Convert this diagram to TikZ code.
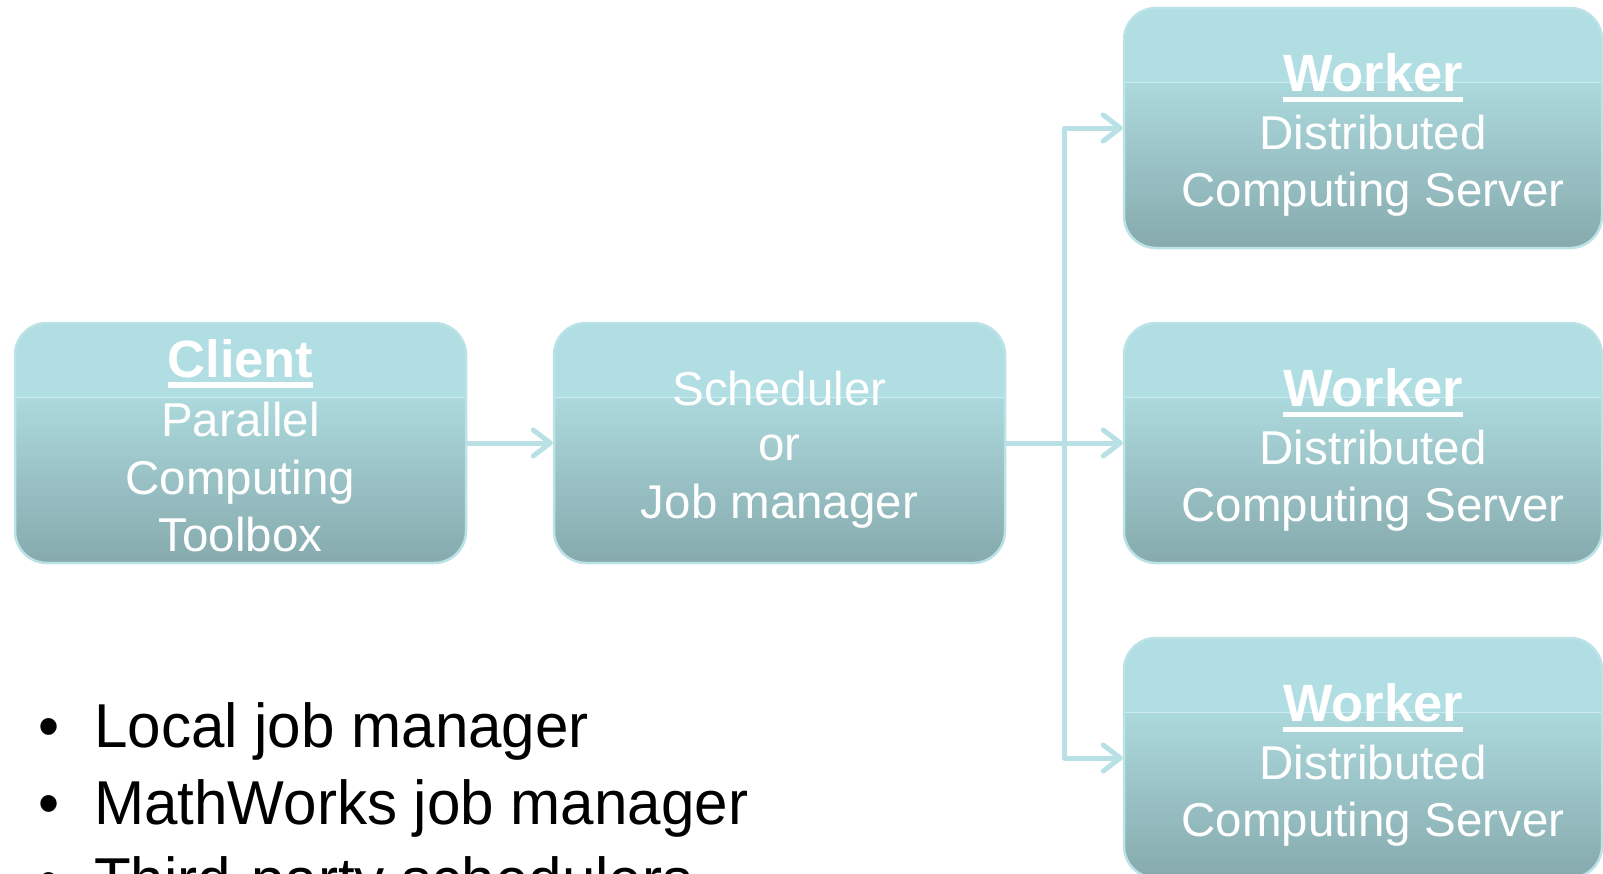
\documentclass[tikz,border=0pt]{standalone}
\usepackage{fontspec}
\setmainfont{Liberation Sans}
\newfontfamily\listfont[FakeStretch=0.97]{Liberation Sans}
\usetikzlibrary{arrows.meta}

\definecolor{cardtop}{HTML}{B0DEE2}
\definecolor{cardmid}{HTML}{ACD9DD}
\definecolor{cardbot}{HTML}{86AAAD}
\definecolor{cardedge}{HTML}{BBE2E6}
\definecolor{cardline}{HTML}{CDECEF}
\definecolor{linkc}{HTML}{B9E1E5}

% bold, underlined heading of a card
\newcommand{\cardtitle}[1]{\setbox0=\hbox{\fontsize{52.5}{60}\selectfont\bfseries #1}%
  \rlap{\copy0}\raisebox{-10.5pt}{\rule{\wd0}{5.5pt}}}

\begin{document}
\begin{tikzpicture}[x=1pt,y=-1pt,
  card/.style={rectangle, rounded corners=32pt, draw=cardedge, line width=2.5pt,
    inner sep=0pt, minimum height=240pt,
    path picture={
      \fill[cardtop, draw=none, sharp corners] (path picture bounding box.north west)
        rectangle ([yshift=-74pt]path picture bounding box.north east);
      \shade[top color=cardmid, bottom color=cardbot, draw=none, sharp corners]
        ([yshift=-74pt]path picture bounding box.north west)
        rectangle (path picture bounding box.south east);
      \draw[cardline, line width=1pt, sharp corners]
        ([yshift=-74pt]path picture bounding box.north west)
        -- ([yshift=-74pt]path picture bounding box.north east);
    }},
  cardtext/.style={text=white, anchor=base, inner sep=0pt,
    font=\fontsize{47.5}{57}\selectfont},
  conn/.style={draw=linkc, line width=5pt, line join=round,
    -{Straight Barb[length=17pt, width=26pt, line cap=round, line join=round]}},
  listitem/.style={anchor=base west, inner sep=0pt,
    font=\listfont\fontsize{62}{70}\selectfont}]

\useasboundingbox (0,0) rectangle (1603,873);
\clip (0,0) rectangle (1603,873);

% cards
\node[card, minimum width=451pt] (client) at (240.5,443) {};
\node[card, minimum width=451pt] (sched)  at (779.5,443) {};
\node[card, minimum width=478pt] (w1) at (1363,128) {};
\node[card, minimum width=478pt] (w2) at (1363,443) {};
\node[card, minimum width=478pt] (w3) at (1363,758) {};

% card texts
\node[cardtext] (client-t) at (240.5,377)   {\cardtitle{Client}};
\node[cardtext] (client-a) at (240.5,436.5) {Parallel};
\node[cardtext] (client-b) at (240.5,494)   {Computing};
\node[cardtext] (client-c) at (240.5,551)   {Toolbox};

\node[cardtext] (sched-a) at (779.5,405) {Scheduler};
\node[cardtext] (sched-b) at (779.5,460) {or};
\node[cardtext] (sched-c) at (779.5,518) {Job manager};

\foreach \w/\dy in {w1/0, w2/315, w3/630}{
  \node[cardtext] (\w-t) at (1373,91.5+\dy)  {\cardtitle{Worker}};
  \node[cardtext] (\w-a) at (1373,149+\dy)   {Distributed};
  \node[cardtext] (\w-b) at (1373,206.5+\dy) {Computing Server};
}

% connectors
\coordinate (split) at (1064.5,443);
\draw[conn] (client) -- (sched);
\draw[conn] (sched) -- (w2);
\draw[conn] (split) |- (w1);
\draw[conn] (split) |- (w3);

% scheduler kinds
\node[listitem] (item1) at (38,747) {\makebox[56pt][l]{•}Local job manager};
\node[listitem] (item2) at (38,824) {\makebox[56pt][l]{•}MathWorks job manager};
\node[listitem] (item3) at (38,901) {\makebox[56pt][l]{•}Third-party schedulers};
\end{tikzpicture}
\end{document}
